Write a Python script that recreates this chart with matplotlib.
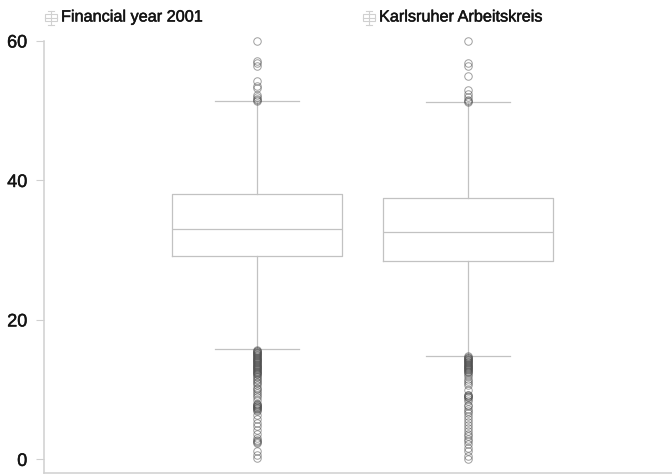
import matplotlib as mpl
mpl.use('Agg')
import matplotlib.pyplot as plt
import matplotlib.patheffects as pe
from matplotlib.lines import Line2D
from matplotlib.patches import Rectangle

mpl.rcParams['font.family'] = ['Liberation Sans', 'DejaVu Sans']

# values
labels = ['Financial year 2001', 'Karlsruher Arbeitskreis']
q1 = [29.1, 28.4]
med = [33.1, 32.6]
q3 = [38.0, 37.5]
whislo = [15.8, 14.8]
whishi = [51.4, 51.2]
y_ticks = [0, 20, 40, 60]

fliers_fy = [60.0, 57.2, 56.9, 56.4, 54.3, 53.6, 53.3, 52.2, 51.9, 51.7, 51.5, 51.4,
             15.7, 15.6, 15.5, 15.4, 15.3, 15.2, 15.1, 15.0, 14.9, 14.8, 14.7, 14.6,
             14.5, 14.4, 14.3, 14.2, 14.1, 14.0, 13.9, 13.8, 13.7, 13.6, 13.5, 13.4,
             13.3, 13.2, 13.1, 13.0, 12.9, 12.8, 12.7, 12.6, 12.5, 12.4, 12.3, 12.2,
             12.0, 11.8, 11.6, 11.4, 11.1, 10.9, 10.6, 10.3, 10.1, 9.8, 9.5, 9.3,
             9.0, 8.5, 8.0, 7.9, 7.8, 7.7, 7.6, 7.5, 7.4, 7.3, 7.2, 7.1, 6.9, 6.3,
             5.8, 5.2, 4.8, 4.2, 3.7, 3.0, 2.8, 2.6, 2.5, 2.4, 1.2, 0.7, 0.2]
fliers_ka = [60.0, 56.8, 56.4, 55.0, 53.0, 52.4, 52.0, 51.6, 51.4, 51.3,
             14.8, 14.7, 14.6, 14.5, 14.4, 14.3, 14.2, 14.1, 14.0, 13.9, 13.8, 13.7,
             13.6, 13.5, 13.4, 13.3, 13.2, 13.1, 13.0, 12.9, 12.8, 12.7, 12.6, 12.5,
             12.3, 12.0, 11.6, 11.3, 10.9, 10.6, 10.0, 9.3, 9.2, 9.1, 9.0, 8.9,
             8.6, 8.4, 7.8, 7.6, 7.2, 6.9, 6.6, 6.2, 5.8, 5.4, 4.9, 4.5, 4.1,
             3.7, 3.3, 2.9, 2.7, 2.2, 1.7, 1.2, 0.5, 0.1]
fliers = [fliers_fy, fliers_ka]

GREY = '#c2c2c2'
TEXT = '#141414'

fig = plt.figure(figsize=(6.72, 4.74), dpi=100)
# axes placed by hand, same pixel box as the scan
ax = fig.add_axes([44 / 672, 1 - 473 / 474, 628 / 672, 432 / 474])

stats = []
for i in range(2):
    stats.append({'med': med[i], 'q1': q1[i], 'q3': q3[i], 'whislo': whislo[i],
                  'whishi': whishi[i], 'fliers': fliers[i]})

line = dict(color=GREY, linewidth=0.9)
res = ax.bxp(stats, positions=[1, 2], widths=0.806, capwidths=0.4,
             boxprops=line, medianprops=line, whiskerprops=line, capprops=line,
             flierprops=dict(marker='o', markersize=5.4, markerfacecolor='none',
                             markeredgecolor='#505050', markeredgewidth=0.7, alpha=0.55))
for f in res['fliers']:
    f.set_clip_on(False)

ax.set_xlim(-0.0095, 2.967)
ax.set_ylim(-1.95, 60)
ax.set_xticks([])
ax.set_yticks(y_ticks)
ax.tick_params(axis='y', length=6, width=0.8, color='#d0d0d0', labelsize=13, pad=6,
               labelcolor=TEXT)
for s in ['top', 'right']:
    ax.spines[s].set_visible(False)
for s in ['left', 'bottom']:
    ax.spines[s].set_color('#d0d0d0')
    ax.spines[s].set_linewidth(1.1)
# the scan has heavier type than the plain font
stroke = [pe.withStroke(linewidth=0.35, foreground=TEXT)]
for t in ax.get_yticklabels():
    t.set_path_effects(stroke)

# legend row on top, with the small box glyphs
for xc, xt, name in [(51, 61, labels[0]), (368.5, 379, labels[1])]:
    yc = 17.5
    fig.add_artist(Rectangle(((xc - 6) / 672, 1 - (yc + 3.5) / 474), 12 / 672, 7 / 474,
                             transform=fig.transFigure, fill=False, ec='#d0d0d0', lw=0.8))
    fig.add_artist(Line2D([(xc - 6) / 672, (xc + 6) / 672], [1 - yc / 474] * 2, color='#d0d0d0', lw=0.8))
    fig.add_artist(Line2D([xc / 672] * 2, [1 - (yc - 7) / 474, 1 - (yc + 7) / 474], color='#d0d0d0', lw=0.8))
    fig.add_artist(Line2D([(xc - 3) / 672, (xc + 3) / 672], [1 - (yc - 7) / 474] * 2, color='#d0d0d0', lw=0.8))
    fig.add_artist(Line2D([(xc - 3) / 672, (xc + 3) / 672], [1 - (yc + 7) / 474] * 2, color='#d0d0d0', lw=0.8))
    fig.text(xt / 672, 1 - (yc - 0.5) / 474, name, fontsize=11.7, color=TEXT, va='center', ha='left',
             path_effects=stroke)

fig.savefig('out.png', dpi=100)
